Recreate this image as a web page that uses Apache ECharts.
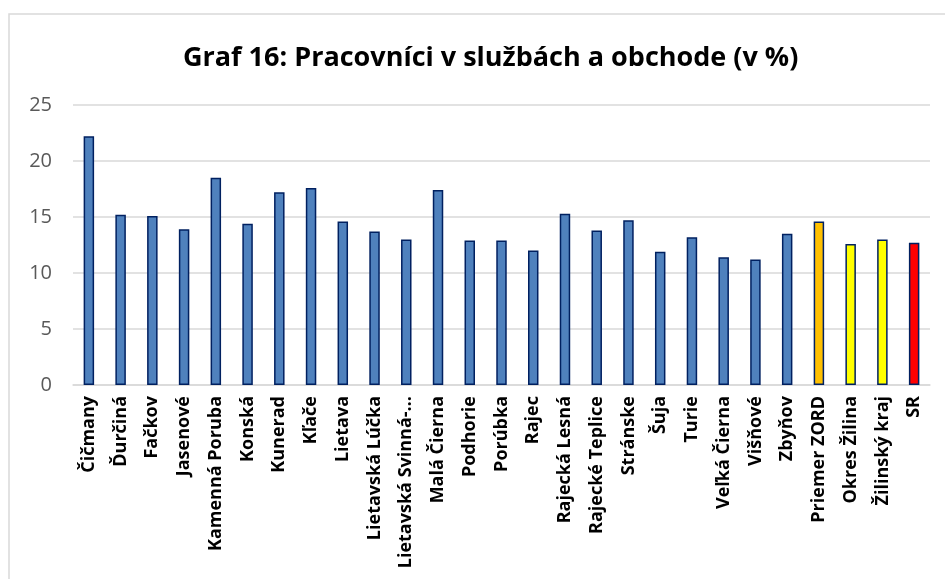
<!DOCTYPE html>
<html>
<head>
<meta charset="utf-8">
<script src="https://cdn.jsdelivr.net/npm/echarts@6/dist/echarts.min.js"></script>
<style>
html,body{margin:0;padding:0;background:#fff;}
#chartmain{width:945px;height:579px;}
</style>
</head>
<body>
<div id="chartmain"></div>
<script>
// obce + porovnanie
var categories = ['Čičmany','Ďurčiná','Fačkov','Jasenové','Kamenná Poruba','Konská','Kunerad','Kľače','Lietava','Lietavská Lúčka','Lietavská Svinná-…','Malá Čierna','Podhorie','Porúbka','Rajec','Rajecká Lesná','Rajecké Teplice','Stránske','Šuja','Turie','Veľká Čierna','Višňové','Zbyňov','Priemer ZORD','Okres Žilina','Žilinský kraj','SR'];
var values = [22.2,15.2,15.1,13.9,18.5,14.4,17.2,17.6,14.6,13.7,13.0,17.4,12.9,12.9,12.0,15.3,13.8,14.7,11.9,13.2,11.4,11.2,13.5,14.6,12.6,13.0,12.7];
var barColors = ['#4f81bd','#4f81bd','#4f81bd','#4f81bd','#4f81bd','#4f81bd','#4f81bd','#4f81bd','#4f81bd','#4f81bd','#4f81bd','#4f81bd','#4f81bd','#4f81bd','#4f81bd','#4f81bd','#4f81bd','#4f81bd','#4f81bd','#4f81bd','#4f81bd','#4f81bd','#4f81bd','#ffc000','#ffff00','#ffff00','#ff0000'];
var yTicks = [0,5,10,15,20,25];

var myChart = echarts.init(document.getElementById('chartmain'));

var seriesData = [];
for (var i in values) {
	seriesData.push({value: values[i], itemStyle: {color: barColors[i]}});
}

option = {
	backgroundColor:'#fff',
	animation:false,
	textStyle:{fontFamily:'Open Sans'},
	title: {
		text: 'Graf 16: Pracovníci v službách a obchode (v %)',
		left: 178,
		top: 40,
		textStyle:{fontSize:27,fontWeight:'bold',color:'#000',fontFamily:'Open Sans'}
	},
	graphic: [{
		type:'rect',
		shape:{x:9,y:14,width:1000,height:1000},
		style:{fill:'none',stroke:'#d9d9d9',lineWidth:1.5},
		silent:true
	}],
	grid: {left:73,right:15,top:105,bottom:194},
	xAxis: {
		type: 'category',
		data: categories,
		axisTick:{show:false},
		axisLine:{lineStyle:{color:'#d9d9d9',width:1.5}},
		axisLabel:{rotate:90,interval:0,margin:11,fontSize:18,fontWeight:'bold',color:'#000'}
	},
	yAxis: {
		type: 'value',
		min: yTicks[0],
		max: yTicks[yTicks.length-1],
		interval: 5,
		axisLine:{show:false},
		axisTick:{show:false},
		axisLabel:{fontSize:20,color:'#595959',margin:21},
		splitLine:{lineStyle:{color:'#d9d9d9',width:1.5}}
	},
	series: [{
		type: 'bar',
		barWidth: '33%',
		data: seriesData,
		itemStyle:{borderColor:'#002060',borderWidth:1.5}
	}]
};
myChart.setOption(option);
</script>
</body>
</html>
